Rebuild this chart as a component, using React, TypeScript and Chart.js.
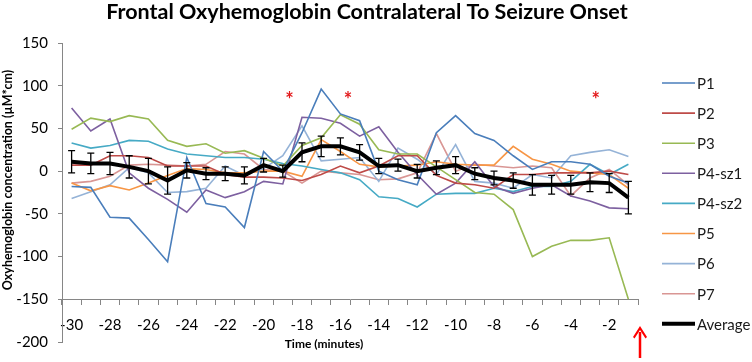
import React, { useEffect, useRef } from "react";
import { Chart, registerables } from "chart.js";

Chart.register(...registerables);

// ---- data ----
const minutes = [
  "-30", "-29", "-28", "-27", "-26", "-25", "-24", "-23", "-22", "-21",
  "-20", "-19", "-18", "-17", "-16", "-15", "-14", "-13", "-12", "-11",
  "-10", "-9", "-8", "-7", "-6", "-5", "-4", "-3", "-2", "-1",
];

const P1 = [-18, -19, -54, -55, -80, -106, 16, -38, -42, -66, 23, 0, 45, 96, 67, 59, 0, -10, -16, 45, 65, 44, 36, 18, 2, 11, 11, 8, -6, -14];
const P2 = [7, 7, 18, 18, 16, 6, 6, 6, -4, -7, -7, -8, -11, -4, 6, -2, 6, 18, 18, -5, -14, -16, -20, -4, -4, -2, -2, -2, 0, -4];
const P3 = [49, 62, 58, 65, 61, 36, 29, 32, 21, 24, 15, 6, 30, 39, 66, 55, 25, 20, 20, 5, -10, -25, -27, -45, -100, -88, -81, -81, -78, -150];
const P4sz1 = [74, 47, 61, -2, -20, -33, -48, -22, -31, -24, -12, -15, 63, 62, 56, 41, 52, 22, -4, -27, -14, 11, -18, -26, -20, -16, -29, -35, -43, -44];
const P4sz2 = [33, 27, 30, 36, 35, 26, 20, 18, 16, 16, 14, 9, 6, 2, -2, -10, -30, -32, -42, -27, -26, -26, -20, -24, -18, -18, -12, 8, -4, 8];
const P5 = [-14, -23, -17, -22, -14, -5, 3, 2, -2, -2, 0, 0, -6, 37, 23, 8, 5, 6, 7, 11, 8, 7, 7, 29, 14, 8, 0, -2, -4, -20];
const P6 = [-32, -24, -16, 4, -2, -25, -24, -20, 6, -5, 3, 18, 53, 12, 14, 16, -12, 27, 14, -4, 31, -12, -14, -20, -4, -8, 18, 22, 25, 17];
const P7 = [-14, -12, -6, 7, 8, 7, 6, 8, 23, 20, 2, 0, -14, 0, -2, -4, -10, -9, -2, 44, 0, 8, 6, 4, 6, 4, -29, -8, 2, -16];
const AVERAGE = [11, 9, 9, 5, 0, -11, 1, -3, -3, -5, 7, 0, 22, 29, 29, 22, 6, 7, 0, 4, 7, -3, -8, -11, -16, -16, -16, -13, -14, -31];
const AVERAGE_ERR = [13, 12, 13, 13, 15, 16, 9, 7, 8, 10, 8, 7, 11, 12, 10, 9, 9, 7, 8, 8, 10, 7, 8, 9, 12, 11, 11, 11, 11, 19];

const seriesNames = ["P1", "P2", "P3", "P4-sz1", "P4-sz2", "P5", "P6", "P7", "Average"];
const seriesColors = ["#4A7EBB", "#BE4B48", "#98B954", "#7D60A0", "#46AAC5", "#F79646", "#95B3D7", "#D99694", "#000000"];

// significance asterisks (category index position, value)
const sigPositions = [11.35, 14.4, 27.3];
const sigValue = 88;

const Y_MIN = -200;
const Y_MAX = 150;
const Y_STEP = 50;
const X_AXIS_AT = -150;

const TITLE = "Frontal Oxyhemoglobin Contralateral To Seizure Onset";
const Y_TITLE = "Oxyhemoglobin concentration (\u00B5M*cm)";
const X_TITLE = "Time (minutes)";

const FONT = "Lato, 'Open Sans', sans-serif";

const decorPlugin = {
  id: "decor",
  afterDatasetsDraw(chart: any) {
    const ctx = chart.ctx;
    const ys = chart.scales.y;
    // error bars on average
    chart.data.datasets.forEach((ds: any, di: number) => {
      if (!ds.errorBars) return;
      const meta = chart.getDatasetMeta(di);
      ctx.save();
      ctx.strokeStyle = "#000";
      ctx.lineWidth = 1.3;
      meta.data.forEach((pt: any, i: number) => {
        const v = ds.data[i];
        const e = ds.errorBars[i];
        const x = pt.x;
        const yt = ys.getPixelForValue(v + e);
        const yb = ys.getPixelForValue(v - e);
        ctx.beginPath();
        ctx.moveTo(x, yt);
        ctx.lineTo(x, yb);
        ctx.moveTo(x - 3.5, yt);
        ctx.lineTo(x + 3.5, yt);
        ctx.moveTo(x - 3.5, yb);
        ctx.lineTo(x + 3.5, yb);
        ctx.stroke();
      });
      ctx.restore();
    });
  },
  afterDraw(chart: any) {
    const ctx = chart.ctx;
    const xs = chart.scales.x;
    const ys = chart.scales.y;
    const area = chart.chartArea;
    ctx.save();
    // title
    ctx.fillStyle = "#000";
    ctx.font = `bold 21.5px ${FONT}`;
    ctx.textAlign = "center";
    ctx.textBaseline = "middle";
    ctx.fillText(TITLE, 367, 12);
    // y title
    ctx.save();
    ctx.translate(8, 180);
    ctx.rotate(-Math.PI / 2);
    ctx.font = `bold 12.5px ${FONT}`;
    ctx.fillText(Y_TITLE, 0, 0);
    ctx.restore();
    // x title
    ctx.font = `bold 12px ${FONT}`;
    ctx.fillText(X_TITLE, area.left + 262, 344);
    // asterisks
    ctx.fillStyle = "#E31A1C";
    ctx.font = `bold 20px ${FONT}`;
    sigPositions.forEach((p) => {
      ctx.fillText("*", xs.getPixelForValue(p), ys.getPixelForValue(sigValue) + 5);
    });
    // red arrow
    const ax = area.right + 2;
    ctx.strokeStyle = "#FF0000";
    ctx.fillStyle = "#FF0000";
    ctx.lineWidth = 2.5;
    ctx.beginPath();
    ctx.moveTo(ax, 358);
    ctx.lineTo(ax, 332);
    ctx.stroke();
    ctx.beginPath();
    ctx.moveTo(ax, 326);
    ctx.lineTo(ax - 7, 337);
    ctx.lineTo(ax - 5.5, 338.5);
    ctx.lineTo(ax, 330);
    ctx.lineTo(ax + 5.5, 338.5);
    ctx.lineTo(ax + 7, 337);
    ctx.closePath();
    ctx.fill();
    // legend
    ctx.textAlign = "left";
    ctx.textBaseline = "middle";
    ctx.font = `15px ${FONT}`;
    chart.data.datasets.forEach((ds: any, i: number) => {
      const y = 83 + i * 30.1;
      ctx.strokeStyle = ds.borderColor;
      ctx.lineWidth = ds.label === "Average" ? 4 : 1.6;
      ctx.beginPath();
      ctx.moveTo(662, y);
      ctx.lineTo(695, y);
      ctx.stroke();
      ctx.fillStyle = "#1a1a1a";
      ctx.fillText(ds.label, 697, y + 1);
    });
    ctx.restore();
  },
};

export default function App() {
  const ref = useRef<HTMLCanvasElement | null>(null);

  useEffect(() => {
    document.body.style.margin = "0";
    const canvas = ref.current;
    if (!canvas) return;
    const values = [P1, P2, P3, P4sz1, P4sz2, P5, P6, P7, AVERAGE];
    const datasets: any[] = values.map((d, i) => {
      const isAvg = seriesNames[i] === "Average";
      return {
        label: seriesNames[i],
        data: d,
        borderColor: seriesColors[i],
        backgroundColor: seriesColors[i],
        borderWidth: isAvg ? 4 : 1.6,
        pointRadius: 0,
        tension: 0,
        fill: false,
        order: isAvg ? -1 : 0,
        errorBars: isAvg ? AVERAGE_ERR : undefined,
      };
    });

    const chart = new Chart(canvas, {
      type: "line",
      data: { labels: minutes, datasets },
      options: {
        responsive: false,
        animation: false,
        devicePixelRatio: 1,
        layout: { padding: { top: 43, right: 114, bottom: 20, left: 0 } },
        plugins: {
          legend: { display: false },
          title: { display: false },
          tooltip: { enabled: false },
        },
        scales: {
          x: {
            type: "category",
            offset: true,
            position: { y: X_AXIS_AT } as any,
            grid: {
              offset: true,
              drawOnChartArea: false,
              drawTicks: true,
              tickLength: 5,
              color: "#868686",
            },
            border: { color: "#868686", width: 1 },
            ticks: {
              autoSkip: false,
              maxRotation: 0,
              minRotation: 0,
              padding: 12,
              color: "#000",
              font: { family: FONT, size: 15 },
              callback: function (this: any, val: any, idx: number) {
                return idx % 2 === 0 ? this.getLabelForValue(val) : "";
              },
            },
          },
          y: {
            min: Y_MIN,
            max: Y_MAX,
            afterFit: (s: any) => {
              s.width = 62;
            },
            grid: {
              drawOnChartArea: false,
              drawTicks: true,
              tickLength: 4,
              color: "#868686",
            },
            border: { color: "#868686", width: 1 },
            ticks: {
              stepSize: Y_STEP,
              padding: 10,
              color: "#000",
              font: { family: FONT, size: 15 },
            },
          },
        },
      },
      plugins: [decorPlugin],
    } as any);
    return () => chart.destroy();
  }, []);

  return (
    <div style={{ width: 752, height: 362, background: "#fff" }}>
      <canvas ref={ref} width={752} height={362} style={{ display: "block" }} />
    </div>
  );
}
